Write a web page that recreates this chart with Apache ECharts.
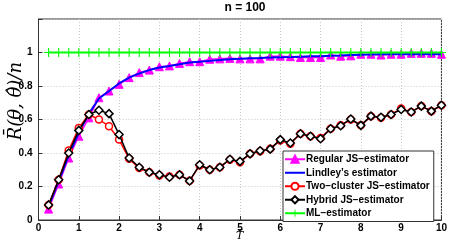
<!DOCTYPE html>
<html><head><meta charset="utf-8">
<script src="https://cdn.jsdelivr.net/npm/echarts@6/dist/echarts.min.js"></script>
<style>html,body{margin:0;padding:0;background:#fff}#c{width:450px;height:243px}</style>
</head><body><div id="c"></div>
<script>
var xs = [0.25,0.5,0.75,1,1.25,1.5,1.75,2,2.25,2.5,2.75,3,3.25,3.5,3.75,4,4.25,4.5,4.75,5,5.25,5.5,5.75,6,6.25,6.5,6.75,7,7.25,7.5,7.75,8,8.25,8.5,8.75,9,9.25,9.5,9.75,10];
var regularJS = [0.065,0.215,0.37,0.50,0.61,0.73,0.77,0.81,0.85,0.88,0.895,0.915,0.92,0.935,0.945,0.945,0.96,0.962,0.965,0.962,0.962,0.962,0.978,0.978,0.975,0.97,0.97,0.97,0.985,0.978,0.98,0.99,0.99,0.985,0.99,0.99,0.995,0.995,0.995,0.99];
var lindley = [0.08,0.23,0.385,0.52,0.635,0.725,0.77,0.815,0.85,0.875,0.895,0.91,0.92,0.93,0.94,0.945,0.95,0.955,0.96,0.962,0.965,0.967,0.97,0.972,0.973,0.975,0.977,0.978,0.98,0.982,0.985,0.987,0.988,0.99,0.99,0.99,0.99,0.99,0.99,0.99];
var twoCluster = [0.09,0.24,0.415,0.55,0.63,0.60,0.56,0.48,0.365,0.31,0.285,0.265,0.26,0.27,0.235,0.325,0.30,0.315,0.36,0.345,0.395,0.41,0.425,0.475,0.455,0.515,0.50,0.49,0.545,0.565,0.60,0.565,0.62,0.61,0.63,0.665,0.645,0.68,0.65,0.685];
var hybrid = [0.09,0.24,0.40,0.535,0.63,0.655,0.635,0.51,0.37,0.315,0.285,0.27,0.255,0.27,0.233,0.33,0.30,0.315,0.363,0.35,0.395,0.413,0.423,0.48,0.46,0.515,0.50,0.485,0.545,0.563,0.603,0.565,0.62,0.613,0.63,0.66,0.645,0.68,0.65,0.685];
var mlEst = [1,1,1,1,1,1,1,1,1,1,1,1,1,1,1,1,1,1,1,1,1,1,1,1,1,1,1,1,1,1,1,1,1,1,1,1,1,1,1,1];
var seriesNames = ['Regular JS\u2212estimator','Lindley\u2019s estimator','Two\u2212cluster JS\u2212estimator','Hybrid JS\u2212estimator','ML\u2212estimator'];
var yTicks = [0,0.2,0.4,0.6,0.8,1];

function pairs(v){ return xs.map(function(x,i){ return [x, v[i]]; }); }
var plusPath = 'path://M-0.6,-5H0.6V-0.6H5V0.6H0.6V5H-0.6V0.6H-5V-0.6H-0.6Z';
var font = 'Liberation Sans, Arial, sans-serif';

var chart = echarts.init(document.getElementById('c'), null, {renderer:'canvas'});
chart.setOption({
  animation:false,
  backgroundColor:'#fff',
  title:{text:'n = 100', left:240, top:-3, textAlign:'center', textStyle:{fontFamily:font,fontSize:12,fontWeight:'bold',color:'#000'}},
  grid:{left:38.5, right:8, top:19, bottom:23, show:true, borderColor:'#333', borderWidth:1},
  xAxis:{type:'value', min:0, max:10, interval:1,
    axisLine:{show:true, lineStyle:{color:'#333'}}, axisTick:{inside:true, length:4, lineStyle:{color:'#333'}},
    axisLabel:{fontFamily:font, fontSize:10, fontWeight:'bold', color:'#000', margin:3},
    splitLine:{show:true, lineStyle:{color:'#c8c8c8', type:[1,2], width:1}}},
  yAxis:{type:'value', min:0, max:1.2, interval:0.2,
    axisLine:{show:true, lineStyle:{color:'#333'}}, axisTick:{inside:true, length:4, lineStyle:{color:'#333'}},
    axisLabel:{fontFamily:font, fontSize:10, fontWeight:'bold', color:'#000', margin:6,
      formatter:function(v){ var r=Math.round(v*10)/10; return yTicks.indexOf(r)>=0 ? String(r) : ''; }},
    splitLine:{show:true, lineStyle:{color:'#c8c8c8', type:[1,2], width:1}}},
  legend:{orient:'vertical', left:283, top:151, itemWidth:20, itemHeight:9, itemGap:1,
    padding:[2,4,2,1], backgroundColor:'#fff', borderColor:'#333', borderWidth:1,
    textStyle:{fontFamily:font, fontSize:10, fontWeight:'bold', color:'#000', padding:[0,0,0,-4], lineHeight:12.5},
    data:[seriesNames[0], {name:seriesNames[1], itemStyle:{opacity:0}}, seriesNames[2], seriesNames[3], seriesNames[4]]},
  graphic:[
    {type:'text', left:7, top:62, rotation:Math.PI/2, style:{text:'R\u0304(\u03b8, \u03b8\u0302)/n', font:'italic 18px "DejaVu Serif", serif', fill:'#000'}},
    {type:'text', left:236, top:231, style:{text:'T\u0304', font:'italic 11px "DejaVu Serif", serif', fill:'#000'}}
  ],
  series:[
    {name:seriesNames[0], type:'line', data:pairs(regularJS), symbol:'triangle', symbolSize:8,
      lineStyle:{color:'#ff00ff', width:1.5}, itemStyle:{color:'#ff00ff', borderColor:'#ff00ff', borderWidth:1}, z:2},
    {name:seriesNames[1], type:'line', data:pairs(lindley), symbol:'none', showSymbol:false,
      lineStyle:{color:'#0000ff', width:2}, itemStyle:{color:'#0000ff'}, z:3},
    {name:seriesNames[2], type:'line', data:pairs(twoCluster), symbol:'circle', symbolSize:7,
      lineStyle:{color:'#ff0000', width:1.5}, itemStyle:{color:'#fff', borderColor:'#ff0000', borderWidth:1.5}, z:4},
    {name:seriesNames[3], type:'line', data:pairs(hybrid), symbol:'diamond', symbolSize:8,
      lineStyle:{color:'#000', width:1.5}, itemStyle:{color:'#fff', borderColor:'#000', borderWidth:1.5}, z:5},
    {name:seriesNames[4], type:'line', data:pairs(mlEst), symbol:plusPath, symbolSize:9,
      lineStyle:{color:'#00ff00', width:2}, itemStyle:{color:'#00ff00', borderWidth:0}, z:6}
  ]
});
</script></body></html>
